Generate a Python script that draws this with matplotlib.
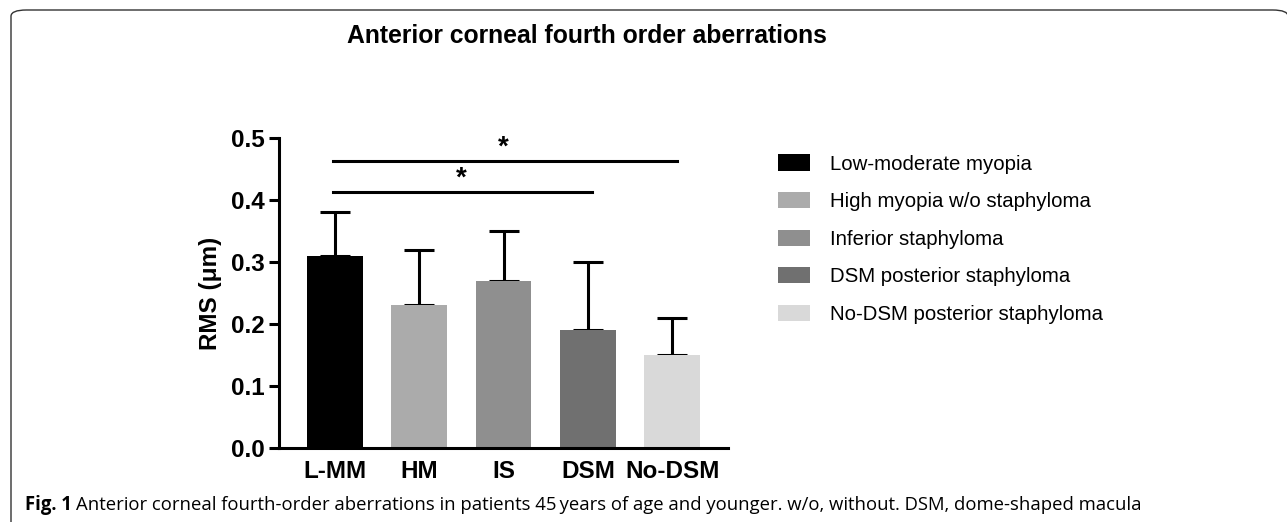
import matplotlib
matplotlib.use("Agg")
import matplotlib.pyplot as plt
from matplotlib.patches import FancyBboxPatch, Patch

categories = ["L-MM", "HM", "IS", "DSM", "No-DSM"]
group_names = ["Low-moderate myopia", "High myopia w/o staphyloma",
               "Inferior staphyloma", "DSM posterior staphyloma",
               "No-DSM posterior staphyloma"]
means = [0.31, 0.23, 0.27, 0.19, 0.15]
sd_upper = [0.07, 0.09, 0.08, 0.11, 0.06]
colors = ["#000000", "#ababab", "#8f8f8f", "#707070", "#d9d9d9"]
yticks = [0.0, 0.1, 0.2, 0.3, 0.4, 0.5]
# significance brackets: (from index, to index, y level, label)
sig_pairs = [(0, 4, 0.463, "*"), (0, 3, 0.413, "*")]

plt.rcParams["font.family"] = ["Liberation Sans", "DejaVu Sans"]

W, H = 1287, 522
fig = plt.figure(figsize=(W / 100, H / 100), dpi=100)

# outer frame of the figure panel
frame = FancyBboxPatch((11 / W, -0.1), (W - 10) / W, (H - 10) / H + 0.1,
                       boxstyle="round,pad=0,rounding_size=0.012",
                       transform=fig.transFigure, fill=False,
                       edgecolor="#333333", linewidth=1.0, clip_on=False)
fig.patches.append(frame)

ax = fig.add_axes([279 / W, 1 - 448 / H, (728 - 279) / W, (448 - 138) / H])
x = range(len(categories))
ax.bar(x, means, width=0.66, color=colors, zorder=2)
ax.errorbar(x, means, yerr=[[0] * len(means), sd_upper], fmt="none",
            ecolor="black", elinewidth=2.2, capsize=11, capthick=2.2, zorder=1)

for i0, i1, yv, lab in sig_pairs:
    ax.plot([i0 - 0.02, i1 + 0.05], [yv, yv], color="black", lw=2.2,
            clip_on=False)
    ax.text((i0 + i1) / 2, yv + 0.022, lab, ha="center", va="center",
            fontsize=20, fontweight="bold")

ax.set_xlim(-0.66, 4.66)
ax.set_ylim(0, 0.5)
ax.set_yticks(yticks)
ax.set_yticklabels([f"{v:.1f}" for v in yticks])
ax.set_xticks(list(x))
ax.set_xticklabels(categories)
for lbl in ax.get_xticklabels() + ax.get_yticklabels():
    lbl.set_fontweight("bold")
    lbl.set_fontsize(17.5)
ax.tick_params(axis="y", length=7, width=2.2, pad=3)
ax.tick_params(axis="x", length=0, pad=9)
ax.spines[["top", "right"]].set_visible(False)
ax.spines[["left", "bottom"]].set_linewidth(2.2)
ax.set_ylabel("RMS (\u03bcm)", fontsize=17.5, fontweight="bold", labelpad=7)

handles = [Patch(facecolor=c, edgecolor="none") for c in colors]
fig.legend(handles, group_names, loc="upper left",
           bbox_to_anchor=(760 / W, 1 - 136 / H), frameon=False,
           fontsize=14.7, handlelength=1.57, handleheight=0.85,
           handletextpad=0.98, labelspacing=0.9)

fig.text(587 / W, 1 - 36 / H, "Anterior corneal fourth order aberrations",
         ha="center", va="center", fontsize=17.8, fontweight="bold")

fig.text(25 / W, 1 - 505 / H, "Fig. 1", ha="left", va="center",
         fontsize=13.35, fontweight="bold", family=["Open Sans", "DejaVu Sans"])
fig.text(76 / W, 1 - 505 / H,
         "Anterior corneal fourth-order aberrations in patients 45\u2009years of age "
         "and younger. w/o, without. DSM, dome-shaped macula",
         ha="left", va="center", fontsize=13.35,
         family=["Open Sans", "DejaVu Sans"])

fig.savefig("out.png", dpi=100)
